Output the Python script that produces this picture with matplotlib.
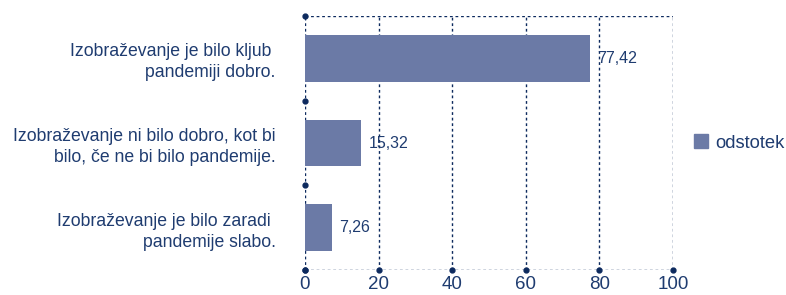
import matplotlib.pyplot as plt
from matplotlib.patches import Patch

# data
categories = [
    "Izobraževanje je bilo kljub \npandemiji dobro.",
    "Izobraževanje ni bilo dobro, kot bi\nbilo, če ne bi bilo pandemije.",
    "Izobraževanje je bilo zaradi \npandemije slabo.",
]
values = [77.42, 15.32, 7.26]
value_labels = ["77,42", "15,32", "7,26"]
xticks = [0, 20, 40, 60, 80, 100]

bar_color = "#6b7aa6"
text_color = "#1f3c70"
line_color = "#0d2a5e"

plt.rcParams['font.family'] = ['Liberation Sans', 'DejaVu Sans']

fig = plt.figure(figsize=(7.86, 2.95), dpi=100)
ax = fig.add_axes([305 / 786, 1 - 270 / 295, 368 / 786, 254 / 295])

y = list(range(len(categories)))[::-1]
ax.barh(y, values, height=0.55, color=bar_color, zorder=3)

ax.set_xlim(0, 100)
ax.set_ylim(-0.5, len(categories) - 0.5)

# value labels
for yi, v, lab in zip(y, values, value_labels):
    ax.text(v + 2, yi, lab, va="center", ha="left", fontsize=11.5, color=text_color)

# grid lines
for xt in xticks[1:]:
    ax.axvline(xt, color=line_color, lw=1, ls=(0, (2, 2)), zorder=1)

for side in ["top", "bottom", "left", "right"]:
    ax.spines[side].set_visible(False)
ax.axhline(len(categories) - 0.5, color=line_color, lw=1, ls=(0, (2, 2)), zorder=1)
ax.axhline(-0.5, color=line_color, lw=1, ls=(0, (2, 2)), zorder=1)
ax.axvline(0, color=line_color, lw=1, ls=(0, (2, 2)), zorder=2)

# dots on axes
bounds = [i - 0.5 for i in range(len(categories) + 1)]
ax.plot([0] * len(bounds), bounds, "o", color=line_color, ms=3.5, clip_on=False, zorder=4)
ax.plot(xticks, [-0.5] * len(xticks), "o", color=line_color, ms=3.5, clip_on=False, zorder=4)

ax.set_xticks(xticks)
ax.set_xticklabels([str(t) for t in xticks], fontsize=13.5, color=text_color)
ax.set_yticks(y)
ax.set_yticklabels(categories, fontsize=12.7, color=text_color, ha="right",
                   linespacing=1.3)
ax.tick_params(axis="both", length=0)
ax.tick_params(axis="x", pad=4)
ax.tick_params(axis="y", pad=21)

leg = fig.legend(handles=[Patch(color=bar_color, label="odstotek")],
                 loc="center left", bbox_to_anchor=(694 / 786, 1 - 143 / 295),
                 frameon=False, fontsize=13.2, handlelength=0.75, handleheight=0.75,
                 handletextpad=0.4, borderpad=0, borderaxespad=0)
for t in leg.get_texts():
    t.set_color(text_color)

fig.savefig("out.png", dpi=100)
